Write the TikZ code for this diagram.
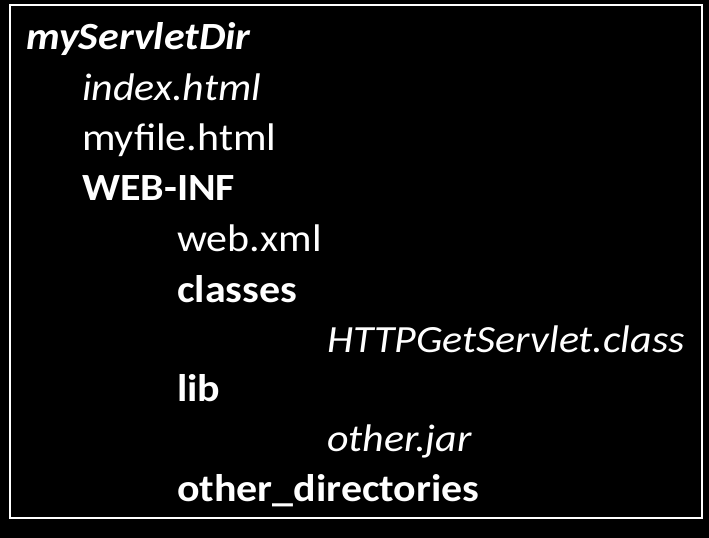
\documentclass[tikz,border=0pt]{standalone}
\usepackage{fontspec}
\setmainfont[FakeStretch=1.09]{Carlito}
\usetikzlibrary{positioning}

\tikzset{
  entry/.style={anchor=base west,inner sep=0pt,text=white,font=\fontsize{38.5bp}{38.5bp}\selectfont},
  folder/.style={entry,font=\fontsize{38.5bp}{38.5bp}\selectfont\bfseries}
}

\begin{document}
\begin{tikzpicture}[x=1bp,y=-1bp]

% background
\fill[black] (0,0) rectangle (709,538);
\useasboundingbox (0,0) rectangle (709,538);
\draw[white,line width=2bp] (10,5) rectangle (702,518);

                    % top level
                    \node[folder] (DirTop) at (26,50) {\itshape myServletDir}; % 1
                    \node[entry] (FileA1) at (82,101) {\itshape index.html}; % 2
                    \node[entry] (FileA2) at (82,151) {myfile.html}; % 3
                    \node[folder] (DirWeb) at (82,201) {WEB-INF}; % 4

                    % WEB-INF
                    \node[entry] (FileB1) at (177,252) {web.xml};
                    \node[folder] (DirClasses) at (177,302) {classes};
                    \node[entry] (FileC1) at (327,352) {\itshape HTTPGetServlet.class};
                    \node[folder] (DirLib) at (177,401) {lib};
                    \node[entry] (FileC2) at (327,451) {\itshape other.jar};
                    \node[folder] (DirOther) at (177,501) {other\_directories};

\end{tikzpicture}
\end{document}
